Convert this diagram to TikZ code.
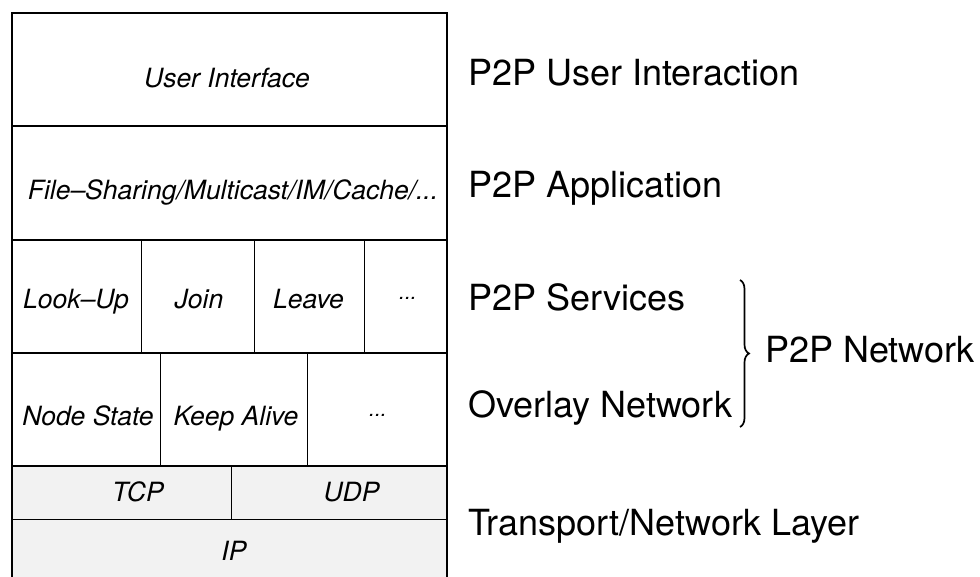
\documentclass[tikz,border=0pt]{standalone}
\usepackage{fontspec}
\setmainfont{TeX Gyre Heros}
\usetikzlibrary{decorations.pathreplacing}
\definecolor{layergray}{HTML}{F2F2F2}
\tikzset{
  boxtext/.style={anchor=base, inner sep=0pt, font=\fontsize{26.5}{31}\selectfont\itshape},
  sidetext/.style={anchor=base west, inner sep=0pt, font=\fontsize{36}{42}\selectfont},
  mainline/.style={line width=1.6pt},
  thinline/.style={line width=0.8pt},
  bracestyle/.style={line width=1.7pt, decorate, decoration={brace, amplitude=9pt}}
}
\newcommand{\celldots}{\raisebox{9pt}{\fontsize{21}{24}\selectfont\itshape...}}
\begin{document}
\begin{tikzpicture}[x=1pt,y=-1pt]
\clip (0,0) rectangle (980,576);
% gray transport layers
\fill[layergray] (12,466) rectangle (447,600);
% outer frame and layer lines
\draw[mainline] (12,600) -- (12,13) -- (447,13) -- (447,600);
\draw[mainline] (12,126) -- (447,126);
\draw[mainline] (12,240) -- (447,240);
\draw[mainline] (12,353) -- (447,353);
\draw[mainline] (12,466) -- (447,466);
\draw[thinline] (12,519) -- (447,519);
% dividers
\draw[thinline] (141,240) -- (141,353);
\draw[thinline] (254,240) -- (254,353);
\draw[thinline] (364,240) -- (364,353);
\draw[thinline] (160,353) -- (160,466);
\draw[thinline] (307,353) -- (307,466);
\draw[thinline] (231,466) -- (231,519);
% box texts
\node[boxtext] (ui) at (227,87) {User Interface};
\node[boxtext] (app) at (233,199) {File\textendash Sharing/Multicast/IM/Cache/...};
\node[boxtext] (lookup) at (76,308) {Look\textendash Up};
\node[boxtext] (join) at (199,308) {Join};
\node[boxtext] (leave) at (308.5,308) {Leave};
\node[boxtext] (sdots) at (408,308) {\celldots};
\node[boxtext] (nstate) at (88,425) {Node State};
\node[boxtext] (kalive) at (236,425) {Keep Alive};
\node[boxtext] (odots) at (378,425) {\celldots};
\node[boxtext] (tcp) at (138,501) {TCP};
\node[boxtext] (udp) at (351.5,501) {UDP};
\node[boxtext] (ip) at (234,560) {IP};
% side labels
\node[sidetext] (l1) at (468,85) {P2P User Interaction};
\node[sidetext] (l2) at (468,197) {P2P Application};
\node[sidetext] (l3) at (468,310) {P2P Services};
\node[sidetext] (l4) at (468,417) {Overlay Network};
\node[sidetext] (l5) at (468,535) {Transport/Network Layer};
\node[sidetext] (l6) at (765,362) {P2P Network};
% brace
\coordinate (bt) at (740,280);
\coordinate (bb) at (740,427);
\draw[bracestyle] (bt) -- (bb);
\end{tikzpicture}
\end{document}
